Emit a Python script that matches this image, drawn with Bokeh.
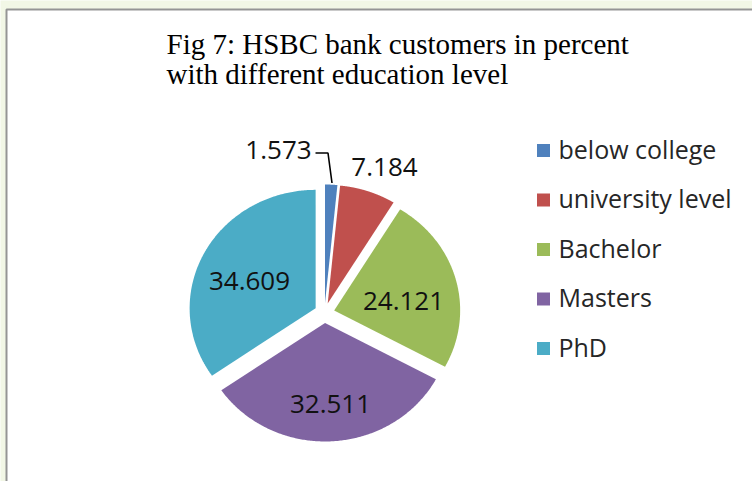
import numpy as np
from bokeh.plotting import figure
from bokeh.models import Range1d
from bokeh.core.properties import value
from bokeh.embed import file_html
from bokeh.resources import INLINE

# ---------------- data ----------------
categories = ["below college", "university level", "Bachelor", "Masters", "PhD"]
percent = [1.573, 7.184, 24.121, 32.511, 34.609]
labels = ["1.573", "7.184", "24.121", "32.511", "34.609"]
colors = ["#4F81BD", "#C0504D", "#9BBB59", "#8064A2", "#4BACC6"]
title_lines = ["Fig 7: HSBC bank customers in percent", "with different education level"]

# ---------------- layout (pixel space) ----------------
W, H = 752, 481
CX, CY = 324.0, 312.5      # pie centre
RX, RY = 126.0, 118.5      # pie radii
EXPLODE = 10.0
label_pos = [(278, 149), (384, 166), (403, 300), (330, 403), (249, 280)]

p = figure(width=W, height=H, x_range=Range1d(0, W), y_range=Range1d(H, 0),
           x_axis_type=None, y_axis_type=None, toolbar_location=None,
           output_backend="svg", min_border=0)
p.grid.visible = False
p.outline_line_color = None
p.background_fill_color = "#F2F7E6"
p.border_fill_color = "#F2F7E6"

# chart area box
p.quad(left=[6], right=[W + 10], top=[9], bottom=[H + 10],
       fill_color="white", line_color="#959595", line_width=2)

# title
for i, t in enumerate(title_lines):
    p.text(x=[166], y=[43 + 30.5 * i], text=[t], text_font=value("Liberation Serif"),
           text_font_size="29px", text_color="#000000",
           text_align="left", text_baseline="alphabetic")

# pie slices
vals = np.array(percent, dtype=float)
frac = vals / vals.sum()
ends = np.cumsum(frac) * 2 * np.pi
starts = np.concatenate([[0.0], ends[:-1]])
xs, ys = [], []
for s, e in zip(starts, ends):
    mid = (s + e) / 2
    ox, oy = CX + EXPLODE * np.sin(mid), CY - EXPLODE * np.cos(mid)
    th = np.linspace(s, e, 200)
    xs.append(np.concatenate([[ox], ox + RX * np.sin(th)]))
    ys.append(np.concatenate([[oy], oy - RY * np.cos(th)]))
p.patches(xs=xs, ys=ys, fill_color=colors, line_color=None)

# leader line for smallest slice
p.line(x=[315, 327.5, 331.5], y=[152.5, 152.5, 182.5], line_color="#000000", line_width=1.6)

# data labels
p.text(x=[q[0] for q in label_pos], y=[q[1] for q in label_pos], text=labels,
       text_font=value("Open Sans"), text_font_size="26px", text_color="#111111",
       text_align="center", text_baseline="middle")

# legend
ly = [150 + 49.5 * i for i in range(len(categories))]
p.rect(x=[543] * len(categories), y=ly, width=13, height=13, fill_color=colors, line_color=None)
p.text(x=[558] * len(categories), y=[v - 2 for v in ly], text=categories,
       text_font=value("Open Sans"), text_font_size="25px", text_color="#262626",
       text_align="left", text_baseline="middle")

open("out.html", "w").write(file_html(p, INLINE))
